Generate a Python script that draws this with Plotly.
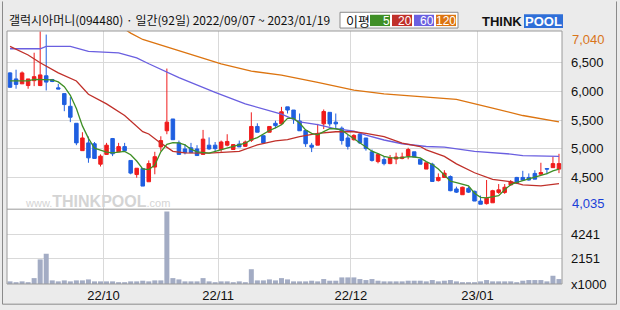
import plotly.graph_objects as go

# ---------------- data ----------------
day_idx = list(range(92))
month_start_idx = [16, 35, 57, 78]
month_labels = ["22/10", "22/11", "22/12", "23/01"]

open_ = [6320, 6215, 6130, 6100, 6185, 6100, 6270, 6205, 6060, 5960,
         5740, 5445, 4970, 5105, 5090, 4735, 4905, 5180, 4950, 5040,
         4800, 4555, 4660, 4430, 4685, 5035, 5315, 5520, 5105, 5000,
         5020, 5000, 4905, 5065, 5065, 4990, 5065, 4990, 5085, 5045,
         5150, 5390, 5230, 5290, 5445, 5435, 5730, 5675, 5485, 5320,
         5065, 5065, 5435, 5635, 5465, 5360, 5190, 5160, 5255, 5190,
         4950, 4780, 4815, 4745, 4825, 4835, 4875, 4950, 4820, 4650,
         4735, 4450, 4505, 4520, 4305, 4205, 4315, 4265, 4095, 4050,
         4065, 4245, 4245, 4375, 4505, 4505, 4505, 4575, 4560, 4660,
         4675, 4650]
high = [6330, 6375, 6345, 6215, 6670, 7040, 6985, 6215, 6130, 5960,
        5900, 5445, 5290, 5215, 5120, 4905, 5105, 5190, 5105, 5105,
        4800, 4665, 4660, 4800, 4950, 5220, 6395, 5520, 5145, 5085,
        5105, 5065, 5330, 5200, 5120, 5145, 5255, 5085, 5145, 5145,
        5635, 5445, 5230, 5390, 5490, 5730, 5730, 5675, 5615, 5320,
        5105, 5435, 5685, 5635, 5615, 5390, 5245, 5255, 5275, 5190,
        4990, 4920, 4875, 4895, 4935, 4935, 5020, 4950, 4820, 4760,
        4760, 4575, 4630, 4540, 4345, 4345, 4345, 4275, 4190, 4460,
        4290, 4390, 4390, 4460, 4515, 4620, 4575, 4630, 4760, 4660,
        4865, 4915]
low = [6060, 6045, 6130, 6045, 6090, 6090, 6015, 6160, 6040, 5655,
       5465, 5065, 4970, 4760, 4835, 4695, 4895, 4875, 4950, 4950,
       4560, 4500, 4355, 4430, 4560, 4960, 5255, 5160, 4905, 4905,
       4935, 4885, 4905, 4985, 4950, 4950, 5045, 4990, 5035, 5035,
       5120, 5290, 5105, 5290, 5360, 5415, 5615, 5435, 5315, 5035,
       4945, 5065, 5345, 5390, 5360, 5075, 4990, 5145, 5085, 4970,
       4780, 4750, 4715, 4735, 4735, 4820, 4820, 4860, 4735, 4650,
       4435, 4435, 4505, 4265, 4235, 4205, 4235, 4095, 4040, 4035,
       4065, 4220, 4220, 4365, 4390, 4450, 4450, 4475, 4560, 4560,
       4675, 4580]
close = [6070, 6120, 6320, 6215, 6255, 6285, 6160, 6170, 6040, 5770,
         5550, 5105, 5190, 4845, 4835, 4875, 5065, 4915, 5040, 4970,
         4580, 4665, 4355, 4745, 4865, 5145, 5465, 5160, 4905, 4935,
         4935, 4885, 5170, 5000, 5005, 5120, 5130, 5075, 5035, 5120,
         5390, 5290, 5105, 5390, 5405, 5645, 5675, 5520, 5315, 5090,
         5030, 5265, 5650, 5435, 5435, 5145, 5045, 5235, 5105, 5005,
         4800, 4905, 4745, 4845, 4860, 4860, 4990, 4860, 4735, 4760,
         4435, 4505, 4580, 4275, 4250, 4335, 4250, 4095, 4040, 4145,
         4275, 4290, 4335, 4430, 4410, 4460, 4460, 4475, 4590, 4650,
         4745, 4745]
volume_k = [223, 140, 223, 140, 500, 2090, 2570, 307, 223, 307,
            223, 307, 307, 390, 223, 223, 223, 223, 140, 140,
            223, 223, 280, 223, 307, 307, 6166, 500, 390, 223,
            223, 223, 500, 223, 140, 223, 223, 140, 223, 140,
            1255, 307, 307, 390, 307, 500, 390, 223, 223, 223,
            280, 223, 420, 280, 280, 560, 560, 560, 420, 335,
            420, 280, 223, 223, 223, 223, 280, 280, 280, 223,
            335, 223, 280, 335, 223, 140, 140, 140, 223, 335,
            223, 223, 223, 223, 140, 280, 335, 335, 335, 223,
            700, 420]

ma5_x = [0, 3, 4, 7, 8, 9, 10, 11, 12, 13, 14, 15, 16, 17, 19, 20, 21, 22, 23, 24,
         25, 26, 27, 28, 29, 30, 31, 33, 35, 37, 39, 40, 41, 42, 43, 44, 45, 46, 47, 48,
         49, 50, 51, 52, 53, 54, 55, 56, 57, 58, 59, 60, 61, 62, 63, 64, 65, 66, 67, 68,
         69, 70, 71, 72, 73, 74, 75, 76, 77, 78, 79, 80, 81, 82, 83, 84, 85, 86, 87, 88,
         89, 90, 91]
ma5_y = [6180, 6180, 6209, 6198, 6163, 6080, 5930, 5700, 5400, 5184, 5013, 4975, 4945, 4930, 4957, 4900, 4790, 4655, 4642, 4720,
         4950, 5080, 5110, 5105, 5070, 4995, 4950, 4928, 4990, 5045, 5099, 5160, 5196, 5260, 5320, 5365, 5420, 5530, 5530, 5450,
         5330, 5270, 5245, 5300, 5350, 5350, 5326, 5250, 5180, 5110, 5040, 4960, 4920, 4871, 4850, 4842, 4850, 4865, 4860, 4845,
         4780, 4730, 4650, 4540, 4440, 4415, 4390, 4358, 4230, 4160, 4150, 4165, 4188, 4290, 4380, 4420, 4450, 4475, 4510, 4535,
         4570, 4620, 4650]
ma20_x = [0, 3, 5, 8, 11, 13, 16, 19, 22, 23, 25, 27, 29, 33, 38, 41, 44, 46, 48, 51,
          54, 57, 59, 62, 65, 68, 69, 72, 74, 77, 80, 83, 85, 88, 91]
ma20_y = [6780, 6630, 6495, 6320, 6180, 5950, 5782, 5582, 5300, 5260, 5100, 4957, 4930, 4928, 4957, 5070, 5138, 5160, 5213, 5270,
          5298, 5298, 5270, 5213, 5099, 5042, 4984, 4871, 4740, 4586, 4471, 4432, 4376, 4358, 4398]
ma60_x = [0, 5, 6, 10, 13, 18, 21, 23, 28, 34, 39, 45, 48, 51, 54, 57, 59, 62, 65, 69,
          72, 77, 83, 85, 91]
ma60_y = [6739, 6739, 6779, 6779, 6693, 6666, 6580, 6478, 6239, 5982, 5782, 5603, 5470, 5420, 5350, 5309, 5240, 5155, 5090, 5042,
          5030, 4957, 4911, 4882, 4871]
ma120_x = [19, 20, 22, 25, 29, 35, 40, 45, 51, 57, 62, 69, 74, 80, 85, 91]
ma120_y = [7080, 7010, 6900, 6805, 6665, 6475, 6350, 6280, 6155, 6020, 5955, 5905, 5860, 5710, 5580, 5470]

price_ticks = [4500, 5000, 5500, 6000, 6500]
price_tick_text = ["4,500", "5,000", "5,500", "6,000", "6,500"]
price_max, price_min = 7040, 4035
vol_ticks = [0, 2151, 4241]
vol_tick_text = ["x1000", "2151", "4241"]

title_text = "갤럭시아머니(094480) · 일간(92일) 2022/09/07 ~ 2023/01/19"
ma_labels = ["5", "20", "60", "120"]

# ---------------- style ----------------
RED = "#f01c1c"
BLUE = "#1f5fe0"
C5, C20, C60, C120 = "#3f8f26", "#c0302a", "#6a5fe0", "#dc7410"
GRID = "#d9d9d9"
BORDER = "#9a9a9a"
BG = "#ebebeb"
W, H = 620, 310
L, R, T, B = 7, 562, 31, 288
SPLIT = 212

def px(xp):
    return (xp - L) / (R - L)

def py(yp):
    return (B - yp) / (B - T)

fig = go.Figure()

fig.add_trace(go.Bar(x=day_idx, y=volume_k, yaxis="y2", marker=dict(color="#a3acc4", line=dict(width=0)),
                     hoverinfo="skip", showlegend=False))

for xs, ys, c in [(ma120_x, ma120_y, C120), (ma60_x, ma60_y, C60), (ma20_x, ma20_y, C20), (ma5_x, ma5_y, C5)]:
    fig.add_trace(go.Scatter(x=xs, y=ys, mode="lines", line=dict(color=c, width=1.3),
                             hoverinfo="skip", showlegend=False, yaxis="y"))

fig.add_trace(go.Candlestick(x=day_idx, open=open_, high=high, low=low, close=close,
                             increasing=dict(line=dict(color=RED, width=1), fillcolor=RED),
                             decreasing=dict(line=dict(color=BLUE, width=1), fillcolor=BLUE),
                             whiskerwidth=0, showlegend=False, yaxis="y"))

split_p = py(SPLIT)
tick_font = dict(family="Liberation Sans, Arial, sans-serif", size=13, color="#111111")

fig.update_layout(
    width=W, height=H,
    margin=dict(l=L, r=W - R, t=T, b=H - B, pad=0),
    paper_bgcolor=BG, plot_bgcolor="white",
    boxgap=0.17, bargap=0.17,
    hovermode=False,
    xaxis=dict(range=[-0.5, 91.5], tickmode="array",
               tickvals=[i - 0.5 for i in month_start_idx], ticktext=month_labels,
               showgrid=True, gridcolor=GRID, gridwidth=1, zeroline=False, showline=False,
               ticks="", tickfont=tick_font, anchor="y2", rangeslider=dict(visible=False),
               ticklabelstandoff=2),
    yaxis=dict(domain=[split_p, 1], range=[3954, 7047], side="right", tickmode="array",
               tickvals=price_ticks, ticktext=price_tick_text, showgrid=True, gridcolor=GRID,
               zeroline=False, showline=False, ticks="", tickfont=tick_font, anchor="x",
               ticklabelstandoff=8),
    yaxis2=dict(domain=[0, split_p], range=[0, 6354], side="right", tickmode="array",
                tickvals=vol_ticks, ticktext=vol_tick_text, showgrid=True, gridcolor=GRID,
                zeroline=False, showline=False, ticks="", tickfont=tick_font, anchor="x",
                ticklabelstandoff=8),
)

shapes = [
    dict(type="rect", xref="paper", yref="paper", x0=0, x1=1, y0=0, y1=1,
         line=dict(color=BORDER, width=1), fillcolor="rgba(0,0,0,0)", layer="above"),
    dict(type="line", xref="paper", yref="paper", x0=0, x1=1, y0=split_p, y1=split_p,
         line=dict(color=BORDER, width=1), layer="above"),
    # outer frame
    dict(type="line", xref="paper", yref="paper", x0=px(2.5), x1=px(2.5), y0=py(308.5), y1=py(1),
         line=dict(color="#8a8a8a", width=1)),
    dict(type="line", xref="paper", yref="paper", x0=px(616.5), x1=px(616.5), y0=py(308.5), y1=py(1),
         line=dict(color="#8a8a8a", width=1)),
    dict(type="line", xref="paper", yref="paper", x0=px(2.5), x1=px(616.5), y0=py(308.5), y1=py(308.5),
         line=dict(color="#8a8a8a", width=1)),
    # legend box
    dict(type="rect", xref="paper", yref="paper", x0=px(340), x1=px(458), y0=py(28), y1=py(12),
         line=dict(color="#8c8c8c", width=1), fillcolor="white"),
]
box_cols = [C5, C20, C60, C120]
box_x0 = [370, 392, 414, 436]
for x0, c in zip(box_x0, box_cols):
    shapes.append(dict(type="rect", xref="paper", yref="paper", x0=px(x0), x1=px(x0 + 20),
                       y0=py(26), y1=py(14.5), line=dict(width=0), fillcolor=c))
# logo blue box
shapes.append(dict(type="rect", xref="paper", yref="paper", x0=px(524), x1=px(563), y0=py(28), y1=py(14),
                   line=dict(width=0), fillcolor="#2f6fd8"))
fig.update_layout(shapes=shapes)

ann = []
ann.append(dict(text=title_text, xref="paper", yref="paper", x=px(7), y=py(19), xanchor="left", yanchor="middle",
                showarrow=False, font=dict(family="Noto Sans CJK KR", size=12, color="#111111")))
ann.append(dict(text="이평", xref="paper", yref="paper", x=px(344), y=py(20), xanchor="left", yanchor="middle",
                showarrow=False, font=dict(family="Noto Sans CJK KR", size=13, color="#111111")))
for x0, lab in zip(box_x0, ma_labels):
    ann.append(dict(text=lab, xref="paper", yref="paper", x=px(x0 + 20.5), y=py(20.5), xanchor="right",
                    yanchor="middle", showarrow=False, borderpad=0,
                    font=dict(family="Liberation Sans, Arial", size=12, color="white")))
ann.append(dict(text="<b>THINK</b>", xref="paper", yref="paper", x=px(524), y=py(21.5), xanchor="right",
                yanchor="middle", showarrow=False,
                font=dict(family="Liberation Sans, Arial", size=13, color="#111111")))
ann.append(dict(text="<b>POOL</b>", xref="paper", yref="paper", x=px(543.5), y=py(21.5), xanchor="center",
                yanchor="middle", showarrow=False,
                font=dict(family="Liberation Sans, Arial", size=13, color="white")))
ann.append(dict(text="www.<b><span style='font-size:16px'>THINKPOOL</span></b>.com", xref="paper", yref="paper",
                x=px(23), y=py(204), xanchor="left", yanchor="middle", showarrow=False,
                font=dict(family="Liberation Sans, Arial", size=11, color="#d4d4d4")))
ann.append(dict(text=f"{price_max:,}", xref="paper", yref="y", x=px(570), y=price_max, xanchor="left",
                yanchor="top", showarrow=False, yshift=1,
                font=dict(family="Liberation Sans, Arial", size=13, color="#d9751a")))
ann.append(dict(text=f"{price_min:,}", xref="paper", yref="y", x=px(570), y=price_min, xanchor="left",
                yanchor="middle", showarrow=False, yshift=1,
                font=dict(family="Liberation Sans, Arial", size=13, color="#1a3fd8")))
fig.update_layout(annotations=ann)

fig.write_html("out.html")
